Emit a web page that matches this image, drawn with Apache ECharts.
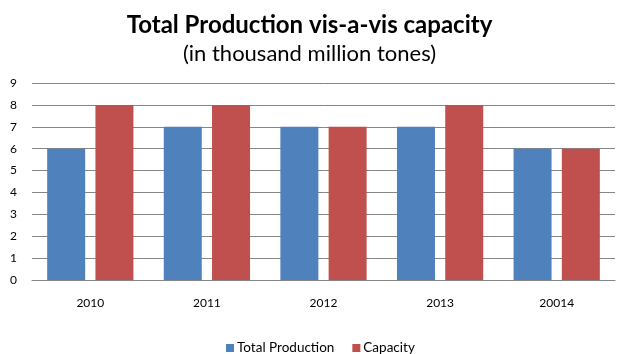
<!DOCTYPE html>
<html>
<head>
<meta charset="utf-8">
<script src="https://cdn.jsdelivr.net/npm/echarts@6/dist/echarts.min.js"></script>
<style>html,body{margin:0;padding:0;background:#fff}#main{width:619px;height:354px}</style>
</head>
<body>
<div id="main"></div>
<script>
var years = ['2010', '2011', '2012', '2013', '20014'];
var production = [6, 7, 7, 7, 6];
var capacity = [8, 8, 7, 8, 6];
var yTicks = [0, 1, 2, 3, 4, 5, 6, 7, 8, 9];

var myChart = echarts.init(document.getElementById('main'));
var font = 'Lato, "Open Sans", sans-serif';
var option = {
    animation: false,
    title: {
        text: 'Total Production vis-a-vis capacity',
        subtext: '(in thousand million tones)',
        left: 'center',
        top: 8,
        itemGap: 6,
        textStyle: { fontFamily: font, fontSize: 24, fontWeight: 'bold', color: '#000' },
        subtextStyle: { fontFamily: font, fontSize: 22, color: '#000' }
    },
    legend: {
        data: ['Total Production', 'Capacity'],
        left: 221,
        top: 336,
        itemWidth: 8,
        itemHeight: 8,
        itemGap: 18,
        icon: 'rect',
        textStyle: { fontFamily: font, fontSize: 13.5, color: '#000', padding: [0, 0, 0, -2] }
    },
    grid: { left: 32, right: 4, top: 83, bottom: 74 },
    xAxis: {
        type: 'category',
        data: years,
        axisTick: { show: false },
        axisLine: { lineStyle: { color: '#868686' } },
        axisLabel: { fontFamily: font, fontSize: 12, color: '#000', margin: 17 }
    },
    yAxis: {
        type: 'value',
        min: yTicks[0],
        max: yTicks[yTicks.length - 1],
        interval: 1,
        axisLine: { show: false },
        axisTick: { show: false },
        splitLine: { lineStyle: { color: '#868686' } },
        axisLabel: { fontFamily: font, fontSize: 12, color: '#000', margin: 15 }
    },
    series: [
        {
            name: 'Total Production',
            type: 'bar',
            data: production,
            barWidth: 38,
            barGap: '27%',
            itemStyle: { color: '#4F81BD' }
        },
        {
            name: 'Capacity',
            type: 'bar',
            data: capacity,
            barWidth: 38,
            itemStyle: { color: '#C0504D' }
        }
    ]
};
myChart.setOption(option);
</script>
</body>
</html>
